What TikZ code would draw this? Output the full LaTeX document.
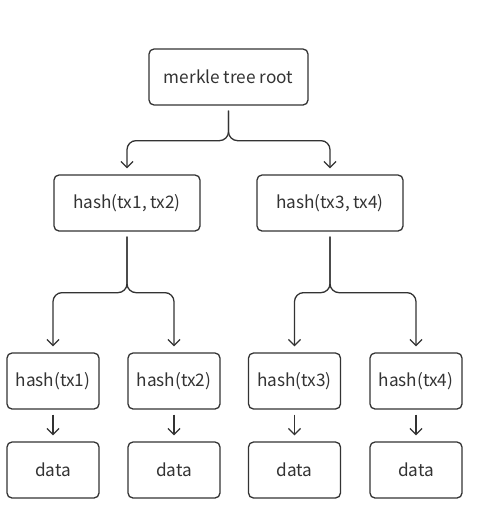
\documentclass[tikz,border=0pt]{standalone}
\usepackage{fontspec}
\setmainfont{Noto Sans CJK SC}
\usetikzlibrary{arrows.meta}
\definecolor{linegray}{HTML}{333333}
\definecolor{textgray}{HTML}{333333}
\begin{document}
\begin{tikzpicture}[x=1pt,y=-1pt,
 box/.style={draw=linegray,line width=1.3pt,rounded corners=5pt,
  minimum height=56pt,inner sep=0pt,text=textgray,
  font=\fontsize{17.2}{19}\selectfont},
 arr/.style={draw=linegray,line width=1.3pt,
  -{Straight Barb[length=6pt,width=12pt]},shorten <=5pt,shorten >=6pt}]
 \useasboundingbox (0,0) rectangle (497,528);
 \node[box,minimum width=159pt] (root) at (228.5,77) {merkle tree root}; % <<< tầng 1
 \node[box,minimum width=146pt] (h12) at (127,203) {hash(tx1, tx2)}; % <<< tầng 2
 \node[box,minimum width=146pt] (h34) at (330,203) {hash(tx3, tx4)};
 \foreach \i/\x in {1/53,2/174,3/294.5,4/416}{
  \node[box,minimum width=92pt] (h\i) at (\x,381) {hash(tx\i)}; % <<< tầng 3
  \node[box,minimum width=92pt] (d\i) at (\x,470) {data};
  \draw[arr] (h\i)--(d\i);
 }
 \path (root.south) ++(0,35) coordinate (j0)
  (h12.south) ++(0,61) coordinate (j1)
  (h34.south) ++(0,61) coordinate (j2);
 \begin{scope}[rounded corners=9pt]
 \draw[arr] (root.south) |- (h12.north |- j0) -- (h12.north);
 \draw[arr] (root.south) |- (h34.north |- j0) -- (h34.north);
 \draw[arr] (h12.south) |- (h1.north |- j1) -- (h1.north);
 \draw[arr] (h12.south) |- (h2.north |- j1) -- (h2.north);
 \draw[arr] (h34.south) |- (h3.north |- j2) -- (h3.north);
 \draw[arr] (h34.south) |- (h4.north |- j2) -- (h4.north);
 \end{scope}
\end{tikzpicture}
\end{document}
